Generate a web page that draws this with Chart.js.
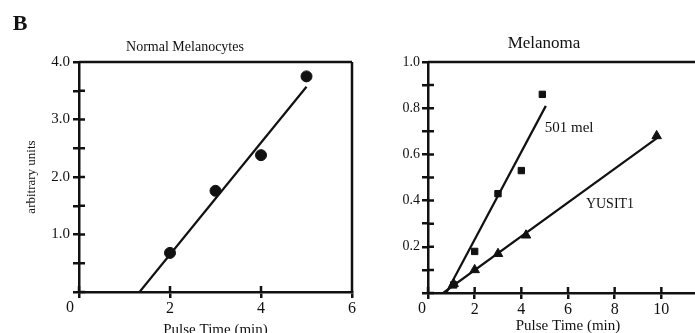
<!DOCTYPE html>
<html>
<head>
<meta charset="utf-8">
<script src="https://cdn.jsdelivr.net/npm/chart.js@4/dist/chart.umd.min.js"></script>
<style>
  html, body { margin: 0; padding: 0; background: #fff; width: 695px; height: 333px; overflow: hidden; position: relative; }
  canvas { position: absolute; top: 0; }
  #normalChart { left: 0; }
  #melanomaChart { left: 360px; }
</style>
</head>
<body>
<canvas id="normalChart" width="360" height="345"></canvas>
<canvas id="melanomaChart" width="360" height="345"></canvas>
<script>
// Normal melanocytes (circles) and fitted line
const normalTime = [2, 3, 4, 5];
const normalUnits = [0.68, 1.76, 2.38, 3.75];
const normalFitTime = [1.33, 5];
const normalFitUnits = [0, 3.57];

// Melanoma: 501 mel (squares), YUSIT1 (triangles) and their fitted lines
const mel501Time = [1.1, 2, 3, 4, 4.9];
const mel501Units = [0.035, 0.18, 0.43, 0.53, 0.86];
const mel501FitTime = [0.78, 5.05];
const mel501FitUnits = [0, 0.81];

const yusitTime = [1.1, 2, 3, 4.2, 9.8];
const yusitUnits = [0.04, 0.10, 0.17, 0.25, 0.68];
const yusitFitTime = [0.65, 9.87];
const yusitFitUnits = [0, 0.675];

// tick values
const normalXTicks = [0, 2, 4, 6];
const melanomaXTicks = [0, 2, 4, 6, 8, 10];

const serif = '"Liberation Serif", "Times New Roman", serif';
const ink = '#111';

function toPoints(xs, ys) {
    return xs.map((x, i) => ({ x: x, y: ys[i] }));
}

// draws the inner half of each tick mark plus the frame lines
function frameAndTicks(box) {
    return {
        id: 'frameAndTicks',
        afterDraw(chart) {
            const ctx = chart.ctx;
            const area = chart.chartArea;
            const xs = chart.scales.x;
            const ys = chart.scales.y;
            ctx.save();
            ctx.strokeStyle = ink;
            ctx.lineWidth = 2.5;
            ctx.beginPath();
            ys.ticks.forEach(t => {
                const py = ys.getPixelForValue(t.value);
                ctx.moveTo(area.left, py);
                ctx.lineTo(area.left + 6, py);
            });
            xs.ticks.forEach(t => {
                const px = xs.getPixelForValue(t.value);
                ctx.moveTo(px, area.bottom);
                ctx.lineTo(px, area.bottom - 6);
            });
            // top border
            ctx.moveTo(area.left, area.top);
            ctx.lineTo(area.right, area.top);
            if (box) {
                ctx.moveTo(area.right, area.top);
                ctx.lineTo(area.right, area.bottom);
            }
            ctx.stroke();
            ctx.restore();
        }
    };
}

// text drawn at data positions (dx/dy nudge in pixels)
function textLabels(labels) {
    return {
        id: 'textLabels',
        afterDraw(chart) {
            const ctx = chart.ctx;
            ctx.save();
            labels.forEach(l => {
                ctx.font = l.font;
                ctx.fillStyle = ink;
                ctx.textAlign = 'center';
                ctx.textBaseline = 'middle';
                let px = l.px !== undefined ? l.px : chart.scales.x.getPixelForValue(l.x);
                let py = l.py !== undefined ? l.py : chart.scales.y.getPixelForValue(l.y);
                ctx.fillText(l.text, px + (l.dx || 0), py + (l.dy || 0));
            });
            ctx.restore();
        }
    };
}

function axisBase() {
    return {
        border: { display: true, color: ink, width: 2.5 },
        grid: { display: true, drawOnChartArea: false, drawTicks: true, tickLength: 6, color: ink, lineWidth: 2.5 }
    };
}

// origin "0" sits left of the y axis, so the x axis skips it and it is drawn separately
const xTickLabel = v => v === 0 ? '' : String(v);

// Normal Melanocytes
const normalCtx = document.getElementById('normalChart').getContext('2d');
new Chart(normalCtx, {
    type: 'scatter',
    data: {
        datasets: [{
            data: toPoints(normalFitTime, normalFitUnits),
            showLine: true,
            borderColor: ink,
            borderWidth: 2.2,
            pointRadius: 0
        }, {
            data: toPoints(normalTime, normalUnits),
            pointStyle: 'circle',
            pointRadius: 5.5,
            backgroundColor: ink,
            borderColor: ink
        }]
    },
    options: {
        responsive: false,
        animation: false,
        layout: { padding: { left: 18, right: 8, top: 0, bottom: 0 } },
        plugins: {
            legend: { display: false },
            tooltip: { enabled: false },
            title: {
                display: true,
                text: 'Normal Melanocytes',
                color: ink,
                font: { family: serif, size: 14, weight: 'normal' },
                padding: { top: 38.6, bottom: 6.6 }
            }
        },
        scales: {
            x: Object.assign(axisBase(), {
                type: 'linear',
                min: 0,
                max: 6,
                afterBuildTicks: scale => { scale.ticks = normalXTicks.map(v => ({ value: v })); },
                afterFit: scale => { scale.height = 53; },
                ticks: { color: ink, padding: 1, font: { family: serif, size: 16 }, callback: xTickLabel },
                title: { display: true, text: 'Pulse Time (min)', color: ink, font: { family: serif, size: 15 }, padding: { top: 0, bottom: 6 } }
            }),
            y: Object.assign(axisBase(), {
                type: 'linear',
                min: 0,
                max: 4,
                afterFit: scale => { scale.width = 61; },
                ticks: {
                    stepSize: 0.5,
                    color: ink,
                    padding: 3,
                    font: { family: serif, size: 15 },
                    callback: v => (v > 0 && Math.round(v * 2) % 2 === 0) ? v.toFixed(1) : ''
                },
                title: { display: true, text: 'arbitrary units', color: ink, font: { family: serif, size: 13 }, padding: { top: 6 } }
            })
        }
    },
    plugins: [frameAndTicks(true), textLabels([
        { text: 'B', px: 20, py: 24, font: 'bold 22px ' + serif },
        { text: '0', x: 0, y: 0, dx: -9, dy: 16, font: '16px ' + serif }
    ])]
});

// Melanoma
const melanomaCtx = document.getElementById('melanomaChart').getContext('2d');
new Chart(melanomaCtx, {
    type: 'scatter',
    data: {
        datasets: [{
            data: toPoints(mel501FitTime, mel501FitUnits),
            showLine: true,
            borderColor: ink,
            borderWidth: 2.2,
            pointRadius: 0
        }, {
            data: toPoints(yusitFitTime, yusitFitUnits),
            showLine: true,
            borderColor: ink,
            borderWidth: 2.2,
            pointRadius: 0
        }, {
            data: toPoints(mel501Time, mel501Units),
            pointStyle: 'rect',
            pointRadius: 4.5,
            backgroundColor: ink,
            borderColor: ink
        }, {
            data: toPoints(yusitTime, yusitUnits),
            pointStyle: 'triangle',
            pointRadius: 5.5,
            backgroundColor: ink,
            borderColor: ink
        }]
    },
    options: {
        responsive: false,
        animation: false,
        layout: { padding: { left: 20, right: 12, top: 0, bottom: 0 } },
        plugins: {
            legend: { display: false },
            tooltip: { enabled: false },
            title: {
                display: true,
                text: 'Melanoma',
                color: ink,
                font: { family: serif, size: 17, weight: 'normal' },
                padding: { top: 33.3, bottom: 8.3 }
            }
        },
        scales: {
            x: Object.assign(axisBase(), {
                type: 'linear',
                min: 0,
                max: 12,
                afterBuildTicks: scale => { scale.ticks = melanomaXTicks.map(v => ({ value: v })); },
                afterFit: scale => { scale.height = 52; },
                ticks: { color: ink, padding: 1, font: { family: serif, size: 16 }, callback: xTickLabel },
                title: { display: true, text: 'Pulse Time (min)', color: ink, font: { family: serif, size: 15 }, padding: { top: 0, bottom: 10 } }
            }),
            y: Object.assign(axisBase(), {
                type: 'linear',
                min: 0,
                max: 1,
                afterFit: scale => { scale.width = 48; },
                ticks: {
                    stepSize: 0.1,
                    color: ink,
                    padding: 2,
                    font: { family: serif, size: 14 },
                    callback: v => (v > 0.05 && Math.round(v * 10) % 2 === 0) ? v.toFixed(1) : ''
                }
            })
        }
    },
    plugins: [frameAndTicks(false), textLabels([
        { text: '501 mel', x: 6.05, y: 0.714, font: '15px ' + serif },
        { text: 'YUSIT1', x: 7.8, y: 0.385, font: '14px ' + serif },
        { text: '0', x: 0, y: 0, dx: -6, dy: 16, font: '16px ' + serif }
    ])]
});
</script>
</body>
</html>
